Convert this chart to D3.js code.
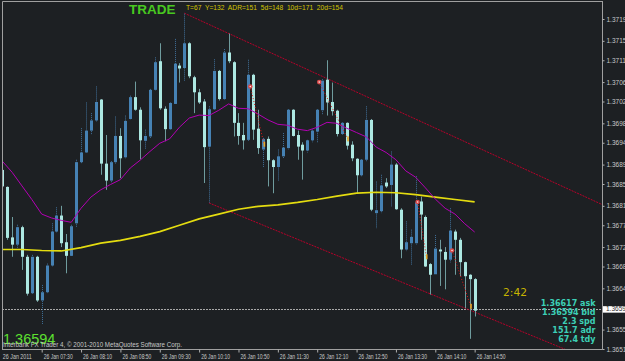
<!DOCTYPE html>
<html>
<head>
<meta charset="utf-8">
<script src="https://cdn.jsdelivr.net/npm/d3@7"></script>
<style>
  html, body { margin: 0; padding: 0; background: #1d2023; overflow: hidden; }
  svg { display: block; }
</style>
</head>
<body>
<div id="chart"></div>
<script>
// EURUSD-style M5 bars, 26 Jan 2011 06:50 .. 14:50 (bar index 0..96)
const opens = [1.36884,1.36849,1.36745,1.36730,1.36766,1.36705,1.36630,1.36705,1.36615,1.36632,
  1.36687,1.36757,1.36790,1.36735,1.36707,1.36774,1.36900,1.36920,1.36965,1.36986,
  1.37029,1.36897,1.36862,1.36900,1.36954,1.36910,1.36989,1.37034,1.37008,1.36944,
  1.36953,1.37049,1.37108,1.37010,1.36968,1.37020,1.37099,1.37094,1.37145,1.37075,
  1.37044,1.37025,1.36932,1.37009,1.37088,1.37030,1.37126,1.37106,1.36981,1.36956,
  1.36946,1.37080,1.36969,1.36926,1.36948,1.36904,1.36890,1.36912,1.36929,1.37008,
  1.36956,1.36936,1.36924,1.36945,1.36963,1.37007,1.37070,1.37024,1.37006,1.36958,
  1.36981,1.36936,1.36907,1.36873,1.36905,1.36987,1.36795,1.36799,1.36858,1.36853,
  1.36895,1.36802,1.36720,1.36733,1.36733,1.36819,1.36787,1.36690,1.36669,1.36720,
  1.36715,1.36699,1.36757,1.36740,1.36694,1.36668,1.36659];
const highs = [1.36886,1.36850,1.36787,1.36771,1.36769,1.36709,1.36709,1.36707,1.36647,1.36691,
  1.36774,1.36807,1.36810,1.36752,1.36771,1.36905,1.36970,1.37023,1.37001,1.37056,
  1.37030,1.36956,1.36902,1.36994,1.36970,1.36996,1.37037,1.37066,1.37013,1.36967,
  1.37051,1.37116,1.37145,1.37015,1.37023,1.37154,1.37104,1.37206,1.37147,1.37078,
  1.37051,1.37030,1.37015,1.37112,1.37090,1.37133,1.37165,1.37108,1.37001,1.36981,
  1.37111,1.37082,1.37008,1.36950,1.36953,1.36906,1.36926,1.36960,1.37009,1.37009,
  1.36965,1.36941,1.36946,1.36967,1.37009,1.37071,1.37110,1.37064,1.37008,1.36982,
  1.36982,1.36943,1.36908,1.36906,1.37015,1.36989,1.36860,1.36874,1.36867,1.36922,
  1.36898,1.36805,1.36778,1.36761,1.36871,1.36829,1.36790,1.36692,1.36750,1.36740,
  1.36725,1.36805,1.36761,1.36744,1.36695,1.36669,1.36661];
const lows = [1.36836,1.36740,1.36705,1.36723,1.36678,1.36625,1.36629,1.36612,1.36565,1.36629,
  1.36685,1.36755,1.36725,1.36671,1.36706,1.36766,1.36898,1.36919,1.36956,1.36984,
  1.36874,1.36843,1.36857,1.36897,1.36867,1.36908,1.36987,1.37006,1.36906,1.36926,
  1.36950,1.37048,1.37008,1.36943,1.36967,1.37018,1.37064,1.37066,1.37073,1.37001,
  1.37020,1.36857,1.36816,1.37008,1.37027,1.37029,1.37104,1.36953,1.36936,1.36926,
  1.36943,1.36946,1.36917,1.36890,1.36850,1.36836,1.36860,1.36908,1.36926,1.36953,
  1.36905,1.36864,1.36920,1.36941,1.36941,1.36998,1.36996,1.36996,1.36953,1.36956,
  1.36926,1.36902,1.36836,1.36871,1.36902,1.36799,1.36764,1.36795,1.36847,1.36809,
  1.36802,1.36702,1.36716,1.36687,1.36730,1.36740,1.36684,1.36627,1.36668,1.36645,
  1.36638,1.36693,1.36668,1.36665,1.36599,1.36536,1.36582];
const closes = [1.36850,1.36744,1.36730,1.36766,1.36705,1.36629,1.36705,1.36615,1.36632,1.36687,
  1.36757,1.36790,1.36733,1.36707,1.36768,1.36900,1.36920,1.36965,1.36986,1.37024,
  1.36897,1.36862,1.36900,1.36954,1.36908,1.36985,1.37034,1.37008,1.36945,1.36954,
  1.37049,1.37106,1.37011,1.36968,1.37022,1.37103,1.37093,1.37145,1.37077,1.37044,
  1.37023,1.36931,1.37009,1.37088,1.37030,1.37126,1.37108,1.36981,1.36954,1.36945,
  1.37080,1.36967,1.36929,1.36948,1.36904,1.36890,1.36912,1.36930,1.37008,1.36954,
  1.36932,1.36924,1.36945,1.36965,1.37008,1.37068,1.37023,1.37005,1.36958,1.36981,
  1.36934,1.36908,1.36873,1.36905,1.36987,1.36802,1.36801,1.36852,1.36850,1.36895,
  1.36803,1.36720,1.36735,1.36746,1.36817,1.36792,1.36685,1.36668,1.36722,1.36716,
  1.36699,1.36759,1.36740,1.36694,1.36665,1.36659,1.36594];

// moving averages read at sampled bars
const maFastBars = d3.range(0, 97, 2);
const maFastVals = [1.36902,1.36879,1.36851,1.36823,1.36793,1.36785,1.36780,1.36776,1.36805,1.36828,
  1.36843,1.36854,1.36864,1.36888,1.36904,1.36922,1.36939,1.36948,1.36972,1.36991,
  1.36997,1.36996,1.37007,1.37020,1.37011,1.37010,1.36999,1.36987,1.36978,1.36976,
  1.36968,1.36965,1.36972,1.36982,1.36980,1.36970,1.36961,1.36952,1.36931,1.36920,
  1.36905,1.36882,1.36869,1.36847,1.36824,1.36805,1.36793,1.36773,1.36756];
const maSlowBars = d3.range(0, 97, 4);
const maSlowVals = [1.36720,1.36720,1.36718,1.36717,1.36724,1.36733,1.36739,1.36747,1.36757,1.36770,
  1.36783,1.36793,1.36803,1.36809,1.36812,1.36817,1.36823,1.36830,1.36836,1.36838,
  1.36837,1.36833,1.36828,1.36823,1.36818];

// channel trendlines (anchor bar, price) -> extended to the right
const upperLine = [[37, 1.37207], [96, 1.36933]];
const lowerLine = [[42, 1.36816], [96, 1.36591]];

// trades: entry bar/price, exit bar/price
const entryBars = [50, 64, 84, 91];
const entryPrices = [1.37056, 1.37065, 1.36818, 1.36718];
const exitBars = [53, 70, 86, 95];
const exitPrices = [1.36937, 1.36948, 1.36705, 1.36603];

const priceTicks = [1.37195,1.37150,1.37110,1.37065,1.37025,1.36980,1.36940,1.36895,1.36855,
  1.36810,1.36770,1.36725,1.36685,1.36640,1.36555,1.36515];
const timeTickBars = [0, 8, 16, 24, 32, 40, 48, 56, 64, 72, 80, 88, 96];
const timeLabels = ["26 Jan 2011","26 Jan 07:30","26 Jan 08:10","26 Jan 08:50","26 Jan 09:30",
  "26 Jan 10:10","26 Jan 10:50","26 Jan 11:30","26 Jan 12:10","26 Jan 12:50","26 Jan 13:30",
  "26 Jan 14:10","26 Jan 14:50"];

const bid = 1.36594, ask = 1.36617;
const infoLines = ["1.36617 ask", "1.36594 bid", "2.3 spd", "151.7 adr", "67.4 tdy"];
const headerText = "T=67  Y=132  ADR=151  5d=148  10d=171  20d=154";
const countdown = "2:42";

const width = 625, height = 361;
const plotLeft = 2, plotTop = 2, plotRight = 602, plotBottom = 349.5;

const x = d3.scaleLinear().domain([0, 96]).range([2.33, 474.65]);
const y = d3.scaleLinear().domain([1.36515, 1.37195]).range([349, 19]);

const svg = d3.select("#chart").append("svg")
  .attr("width", width).attr("height", height)
  .style("background-color", "#1d2023");

svg.append("defs").append("clipPath").attr("id", "plot")
  .append("rect").attr("x", plotLeft).attr("y", plotTop)
  .attr("width", plotRight - plotLeft).attr("height", plotBottom - plotTop);

const plot = svg.append("g").attr("clip-path", "url(#plot)");

// bid line
plot.append("line")
  .attr("x1", plotLeft).attr("x2", plotRight)
  .attr("y1", Math.round(y(bid)) - 1.5).attr("y2", Math.round(y(bid)) - 1.5)
  .attr("stroke", "#a8a8a8").attr("stroke-dasharray", "2,1");

// channel lines
function ray(pts) {
  const [[i1, p1], [i2, p2]] = pts;
  const iEnd = x.invert(plotRight);
  const pEnd = p1 + (p2 - p1) * (iEnd - i1) / (i2 - i1);
  return [[x(i1), y(p1)], [x(iEnd), y(pEnd)]];
}
[upperLine, lowerLine].forEach(l => {
  plot.append("path")
    .attr("d", d3.line()(ray(l)))
    .attr("stroke", "#b8002a").attr("stroke-width", 1)
    .attr("stroke-dasharray", "2,1").attr("fill", "none");
});

// candles
const bars = d3.range(opens.length).map(i => ({
  i, o: opens[i], h: highs[i], l: lows[i], c: closes[i], up: closes[i] >= opens[i]
}));

plot.selectAll(".wick").data(bars).enter().append("line")
  .attr("class", "wick")
  .attr("x1", d => Math.round(x(d.i)) + 0.5).attr("x2", d => Math.round(x(d.i)) + 0.5)
  .attr("y1", d => y(d.h)).attr("y2", d => y(d.l))
  .attr("stroke", d => d.up ? "#41709a" : "#6f9c9e")
  .attr("stroke-dasharray", d => d.up ? "1,1" : null);

plot.selectAll(".body").data(bars).enter().append("rect")
  .attr("class", "body")
  .attr("x", d => Math.round(x(d.i)) - 1)
  .attr("width", 3)
  .attr("y", d => y(Math.max(d.o, d.c)))
  .attr("height", d => Math.max(1, Math.abs(y(d.o) - y(d.c))))
  .attr("fill", d => d.up ? "#4682b4" : "#ade8e2");

// moving averages
const line = d3.line().x(d => x(d[0])).y(d => y(d[1]));
plot.append("path")
  .attr("d", line(maSlowBars.map((b, k) => [b, maSlowVals[k]])))
  .attr("stroke", "#e4dc10").attr("stroke-width", 1.7).attr("fill", "none");
plot.append("path")
  .attr("d", line(maFastBars.map((b, k) => [b, maFastVals[k]])))
  .attr("stroke", "#b400b4").attr("stroke-width", 1).attr("fill", "none");

// trades
entryBars.forEach((b, k) => {
  plot.append("line")
    .attr("x1", x(b) + 2).attr("y1", y(entryPrices[k]))
    .attr("x2", x(exitBars[k]) + 1).attr("y2", y(exitPrices[k]))
    .attr("stroke", "#e01818").attr("stroke-dasharray", "1,2");
  plot.append("circle")
    .attr("cx", x(b) + 2).attr("cy", y(entryPrices[k])).attr("r", 2.3)
    .attr("fill", "#d84a4a");
  plot.append("circle")
    .attr("cx", x(b) + 2).attr("cy", y(entryPrices[k])).attr("r", 0.8)
    .attr("fill", "#ffe0e0");
  plot.append("rect")
    .attr("x", x(exitBars[k]) + 0.5).attr("y", y(exitPrices[k]) - 2.5)
    .attr("width", 1.6).attr("height", 5)
    .attr("fill", "#e8a828");
});

// frame
svg.append("path")
  .attr("d", `M${plotLeft + 0.5},${plotBottom} V${plotTop - 0.5} H${plotRight}`)
  .attr("stroke", "#a0a0a0").attr("fill", "none");
svg.append("line")
  .attr("x1", plotLeft).attr("x2", plotRight + 0.5).attr("y1", plotBottom).attr("y2", plotBottom)
  .attr("stroke", "#a0a0a0");
svg.append("line")
  .attr("x1", plotRight + 0.5).attr("x2", plotRight + 0.5).attr("y1", plotTop - 1).attr("y2", plotBottom)
  .attr("stroke", "#a0a0a0");

// price axis
const yAxis = d3.axisRight(y).tickValues(priceTicks)
  .tickFormat(d3.format(".5f")).tickSize(2).tickPadding(2);
const gy = svg.append("g").attr("transform", `translate(${plotRight + 0.5},0)`).call(yAxis);
gy.select(".domain").remove();
gy.selectAll("line").attr("stroke", "#b0b0b0");
gy.selectAll("text").attr("fill", "#c8c8c8")
  .style("font-family", "Liberation Sans, Arial, sans-serif").style("font-size", "6.5px");

// bid label on axis
svg.append("rect")
  .attr("x", plotRight + 1).attr("y", y(bid) - 4.5).attr("width", 24).attr("height", 6.5)
  .attr("fill", "#ffffff");
svg.append("text")
  .attr("x", plotRight + 4).attr("y", y(bid) + 0.5)
  .attr("fill", "#303030")
  .style("font-family", "Liberation Sans, Arial, sans-serif").style("font-size", "6.5px")
  .text(d3.format(".5f")(bid));

// time axis
const xAxis = d3.axisBottom(x).tickValues(timeTickBars)
  .tickFormat((d, i) => timeLabels[i]).tickSize(3).tickPadding(1);
const gx = svg.append("g").attr("transform", `translate(0,${plotBottom})`).call(xAxis);
gx.select(".domain").remove();
gx.selectAll("line").attr("stroke", "#b0b0b0");
gx.selectAll("text")
  .attr("text-anchor", "start").attr("x", 1.5).attr("dy", "0.9em")
  .attr("textLength", 29).attr("lengthAdjust", "spacingAndGlyphs")
  .attr("fill", "#c8c8c8")
  .style("font-family", "Liberation Sans, Arial, sans-serif").style("font-size", "6.5px");
gx.select(".tick:first-of-type line").remove();
gx.select(".tick:first-of-type text").attr("x", 0);

// texts
svg.append("text").attr("x", 129).attr("y", 14)
  .attr("fill", "#48c820")
  .style("font-family", "Liberation Sans, Arial, sans-serif")
  .style("font-weight", "bold").style("font-size", "13.5px")
  .text("TRADE");

svg.append("text").attr("x", 186).attr("y", 9.5)
  .attr("fill", "#d2c400")
  .attr("textLength", 157).attr("lengthAdjust", "spacingAndGlyphs")
  .style("font-family", "Liberation Sans, Arial, sans-serif").style("font-size", "7.5px")
  .style("white-space", "pre")
  .text(headerText);

svg.append("text").attr("x", 503).attr("y", 296)
  .attr("fill", "#c8b400")
  .style("font-family", "DejaVu Sans, sans-serif").style("font-size", "10.7px")
  .text(countdown);

svg.selectAll(".info").data(infoLines).enter().append("text")
  .attr("class", "info")
  .attr("x", 595.5).attr("y", (d, i) => 306 + i * 9)
  .attr("text-anchor", "end")
  .attr("fill", "#3ccfb6")
  .style("font-family", "DejaVu Sans, sans-serif")
  .style("font-weight", "bold").style("font-size", "8px")
  .text(d => d);

svg.append("text").attr("x", 3).attr("y", 343.5)
  .attr("fill", "#5ee030")
  .style("font-family", "Liberation Sans, Arial, sans-serif").style("font-size", "14.5px")
  .text(d3.format(".5f")(bid));

svg.append("text").attr("x", 3).attr("y", 347)
  .attr("fill", "#c8c8c8")
  .attr("textLength", 179).attr("lengthAdjust", "spacingAndGlyphs")
  .style("font-family", "Liberation Sans, Arial, sans-serif").style("font-size", "6.5px")
  .text("Interbank FX Trader 4, \u00a9 2001-2010 MetaQuotes Software Corp.");
</script>
</body>
</html>
